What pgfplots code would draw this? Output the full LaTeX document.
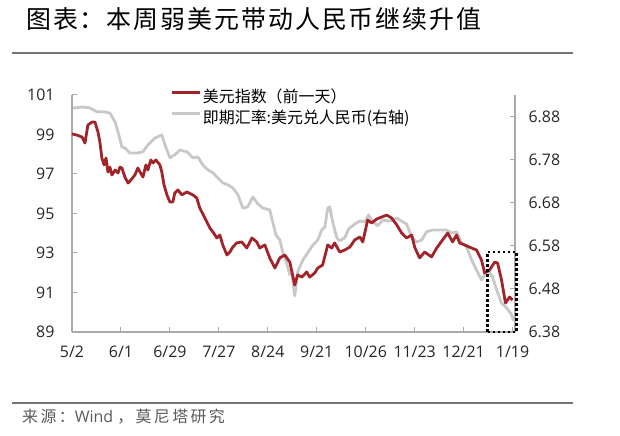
\documentclass[border=0pt]{standalone}
\usepackage{fontspec}
\usepackage{pgfplots}
\pgfplotsset{compat=1.18}
\setmainfont{Open Sans}
\newfontfamily\cjk{Noto Sans CJK SC}
\definecolor{usdred}{RGB}{160,36,42}
\definecolor{cnygray}{RGB}{200,200,200}
\definecolor{axgray}{RGB}{170,170,170}
\pgfplotsset{mystyle/.style={scale only axis, width=443bp, height=237bp, xmin=0, xmax=181,
  tick align=inside, major tick length=5bp,
  every tick/.style={axgray, line width=1bp},
  axis line style={axgray, line width=1.2bp},
  ticklabel style={font=\fontsize{16}{16}\selectfont, text=black!85},
  /pgf/number format/assume math mode=true}}
\begin{document}
\begin{tikzpicture}
\useasboundingbox (-72bp,-104bp) rectangle (548bp,332bp);
\node[anchor=west, inner sep=0pt] at (-46bp,313bp) {\cjk\fontsize{25}{25}\selectfont\addfontfeature{LetterSpace=8}图表：本周弱美元带动人民币继续升值};
\draw[black!55, line width=1.2bp] (-60bp,279bp) -- (501bp,279bp);
\draw[black!55, line width=1.2bp] (-60bp,-71bp) -- (501bp,-71bp);
\node[anchor=west, inner sep=0pt, text=black!65] at (-50bp,-85bp) {\fontsize{16}{16}\selectfont{\cjk\addfontfeature{LetterSpace=15}来源：}Wind {\cjk\addfontfeature{LetterSpace=15}，莫尼塔研究}};

\begin{axis}[mystyle, axis y line*=right, axis x line=none,
  ymin=6.38, ymax=6.931, ytick={6.38,6.48,6.58,6.68,6.78,6.88},
  yticklabel style={/pgf/number format/fixed, /pgf/number format/fixed zerofill, /pgf/number format/precision=2, xshift=10bp}]
\addplot[cnygray, line width=2.8bp, line join=round] coordinates {
(0,6.901) (1.2,6.901) (4.5,6.903) (7.3,6.901) (10.2,6.892) (12.7,6.892) (15.5,6.889) (17.6,6.868) (18.8,6.845) (20.4,6.810)
(21.6,6.808) (23.7,6.796) (26.5,6.796) (29.0,6.799) (31.0,6.815) (33.9,6.831) (36.7,6.838) (38.0,6.815) (40.0,6.785) (42.0,6.792)
(44.1,6.803) (46.9,6.799) (49.4,6.785) (51.4,6.787) (53.5,6.768) (55.5,6.757) (57.6,6.750) (59.6,6.738) (61.6,6.727) (63.7,6.722)
(65.7,6.715) (67.8,6.699) (69.8,6.668) (71.8,6.671) (73.9,6.694) (75.9,6.678) (78.0,6.668) (80.8,6.664) (82.0,6.636) (83.3,6.606)
(84.9,6.594) (86.1,6.566) (87.8,6.538) (89.0,6.513) (89.8,6.517) (91.0,6.464) (92.2,6.520) (94.3,6.547) (96.3,6.564) (98.4,6.582)
(100.4,6.594) (102.0,6.617) (103.3,6.624) (104.5,6.668) (105.3,6.671) (106.5,6.636) (108.2,6.599) (109.4,6.592) (111.4,6.599) (113.1,6.620)
(115.5,6.631) (117.6,6.638) (119.6,6.636) (121.2,6.652) (122.9,6.636) (124.9,6.627) (126.9,6.640) (129.8,6.638) (132.7,6.645) (135.1,6.636)
(136.7,6.631) (138.8,6.601) (140.8,6.589) (142.9,6.594) (144.9,6.613) (147.3,6.617) (150.2,6.617) (153.1,6.617) (155.1,6.610) (157.1,6.613)
(159.2,6.587) (161.2,6.578) (163.3,6.547) (165.3,6.524) (167.3,6.501) (169.8,6.524) (171.8,6.508) (173.5,6.478) (175.5,6.447) (177.6,6.436)
(179.6,6.420) (180.4,6.406)
};
\end{axis}

\begin{axis}[mystyle, axis x line*=bottom, axis y line*=left, clip=false,
  ymin=89, ymax=101, ytick={89,91,93,95,97,99,101},
  xtick={0,20,40,60,80,100,120,140,160,180},
  xticklabels={5/2,6/1,6/29,7/27,8/24,9/21,10/26,11/23,12/21,1/19},
  yticklabel style={xshift=-14bp}, xticklabel style={yshift=-10bp},
  legend style={at={(axis description cs:0.2223,1.032)}, anchor=north west, draw=none, fill=none,
    inner sep=0pt, row sep=0pt, column sep=0pt,
    font=\fontsize{16}{16}\selectfont\cjk,
    nodes={inner sep=1.5bp, text height=13bp, text depth=5bp}},
  legend cell align=left,
  legend image code/.code={\draw[#1] (0bp,5.5bp) -- (28bp,5.5bp);}]
\addplot[usdred, line width=2.8bp, line join=round] coordinates {
(0,99.03) (2.0,98.97) (4.1,98.87) (5.3,98.57) (6.5,99.48) (8.2,99.63) (9.4,99.63) (10.6,99.13) (11.4,98.62) (12.2,97.81)
(13.1,97.46) (13.9,97.81) (14.7,97.10) (15.5,97.35) (16.3,96.95) (17.6,97.20) (18.8,97.05) (19.6,97.35) (20.4,97.30) (21.6,96.85)
(22.9,96.54) (24.1,96.70) (25.7,96.95) (26.9,97.30) (27.8,97.10) (29.0,96.85) (30.2,97.46) (31.0,97.20) (32.2,97.71) (33.1,97.56)
(34.3,97.71) (35.9,97.46) (36.7,97.10) (37.6,96.44) (38.8,95.94) (40.0,95.58) (41.2,95.58) (42.0,96.04) (43.3,96.19) (44.9,95.94)
(46.9,96.09) (49.4,95.94) (51.0,95.78) (52.2,95.28) (54.3,94.77) (56.3,94.27) (57.6,94.06) (59.2,93.76) (60.4,93.91) (61.6,93.41)
(63.3,92.90) (64.5,93.05) (65.7,93.30) (67.3,93.51) (69.4,93.56) (71.4,93.25) (73.5,93.76) (75.5,93.56) (76.7,93.25) (78.8,93.41)
(80.8,92.75) (82.9,92.24) (84.9,92.75) (86.9,92.90) (89.0,92.54) (91.0,91.38) (92.2,91.89) (93.9,91.78) (95.9,92.04) (97.1,91.78)
(99.2,91.99) (100.4,92.24) (102.4,92.39) (104.5,93.41) (106.1,93.25) (107.3,93.51) (109.4,93.05) (111.4,93.15) (113.5,93.30) (115.5,93.66)
(117.6,93.81) (118.8,93.56) (120.8,94.67) (122.4,94.52) (124.5,94.72) (126.5,94.82) (128.6,94.92) (130.6,94.77) (132.7,94.42) (134.7,94.01)
(136.7,93.76) (138.8,93.91) (140.0,93.30) (142.0,92.75) (144.1,93.05) (146.9,92.80) (149.0,93.25) (151.4,93.66) (153.5,94.01) (155.5,93.56)
(157.1,93.91) (158.4,93.51) (160.4,93.41) (163.3,93.25) (165.3,93.15) (167.3,92.65) (168.6,91.99) (170.6,92.14) (172.7,92.54) (173.9,92.49)
(175.5,91.63) (177.1,90.47) (178.8,90.77) (180.0,90.62)
};
\addlegendentry{美元指数（前一天）}
\addlegendimage{cnygray, line width=2.8bp}
\addlegendentry{即期汇率:美元兑人民币(右轴)}
\draw[black, line width=2.6bp, dash pattern=on 2.6bp off 2.4bp] (axis cs:169.8,89) rectangle (axis cs:181.6,93.05);
\end{axis}
\end{tikzpicture}
\end{document}
